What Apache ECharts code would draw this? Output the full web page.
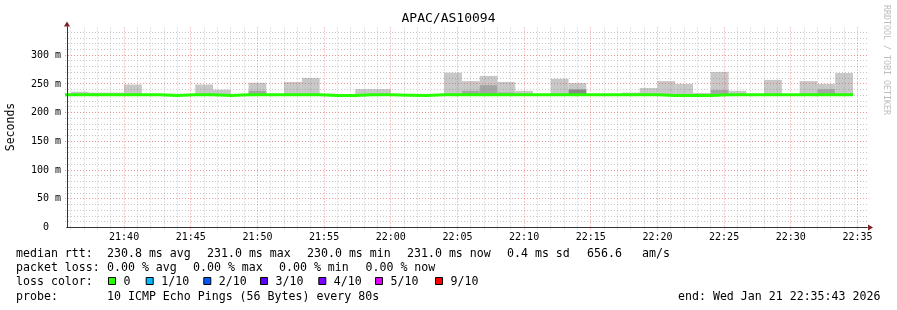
<!DOCTYPE html>
<html>
<head>
<meta charset="utf-8">
<title>APAC/AS10094</title>
<script src="https://cdn.jsdelivr.net/npm/echarts@6.0.0/dist/echarts.min.js"></script>
<style>
html,body{margin:0;padding:0;background:#ffffff;}
#chart{width:897px;height:310px;}
</style>
</head>
<body>
<div id="chart"></div>
<script>
// ---------------- data ----------------
const chartTitle = 'APAC/AS10094';
const rangeStart = '21:35:43';
const rangeEnd = '22:35:43';
const firstBinStart = '21:34:40';
const binSeconds = 80;

const xTickLabels = ['21:40','21:45','21:50','21:55','22:00','22:05','22:10','22:15','22:20','22:25','22:30','22:35'];
const yTickValues = [0, 50, 100, 150, 200, 250, 300];
const yTickLabels = ['0  ', '50 m', '100 m', '150 m', '200 m', '250 m', '300 m'];

// median rtt of each 80 s bin (ms)
const medianRtt = [
  231, 231, 231, 231, 231, 231, 230, 231, 231, 230,
  231, 231, 231, 231, 231, 230, 230, 231, 231, 230.5,
  230, 231, 231, 231, 231, 231, 231, 231, 231, 231,
  231, 231, 231, 231, 230, 230, 230, 231, 231, 231,
  231, 231, 231, 231, 231
];
// smoke: lowest ping, highest ping, inner (darker) band top, core (darkest) band top
const smokeLow = [
  null, 230, 230, 230, 230, null, null, null, 230, 230,
  null, 230, null, 230, 230, null, null, 230, 230, null,
  null, null, 230, 230, 230, 230, 230, null, 230, 230,
  null, null, 230, 230, 230, 230, 230, 230, 230, null,
  230, null, 230, 230, 230
];
const smokeHigh = [
  null, 236.5, 235, 235, 249, null, null, null, 249, 240,
  null, 252, null, 253.5, 260.5, null, null, 241, 241, null,
  null, null, 269.5, 255, 264, 253.5, 238, null, 259, 251.5,
  null, null, 235, 243, 255, 250, 234.5, 271, 238, null,
  257, null, 255, 250, 269
];
const smokeInner = [
  null, null, null, null, null, null, null, null, null, null,
  null, 238, null, null, null, null, null, null, null, null,
  null, null, null, 238, 248, 235, null, null, null, null,
  null, null, null, null, null, null, null, 239.5, null, null,
  null, null, null, 241, null
];
const smokeCore = [
  null, null, null, null, null, null, null, null, null, null,
  null, null, null, null, null, null, null, null, null, null,
  null, null, null, null, null, null, null, null, null, 240.5,
  null, null, null, null, null, null, null, null, null, null,
  null, null, null, null, null
];

const lossLabels = ['0', '1/10', '2/10', '3/10', '4/10', '5/10', '9/10'];
const lossColors = ['#26ff00', '#00b8ff', '#0059ff', '#5e00ff', '#7e00ff', '#dd00ff', '#ff0000'];

const rttRow = ['median rtt:', '230.8 ms avg', '231.0 ms max', '230.0 ms min', '231.0 ms now', '0.4 ms sd', '656.6', 'am/s'];
const lossRow = ['packet loss:', '0.00 % avg', '0.00 % max', '0.00 % min', '0.00 % now'];
const probeRow = ['probe:', '10 ICMP Echo Pings (56 Bytes) every 80s'];
const endText = 'end: Wed Jan 21 22:35:43 2026';
const watermark = 'RRDTOOL / TOBI OETIKER';

// ---------------- helpers ----------------
function toSec(s) { const p = s.split(':').map(Number); return p[0] * 3600 + p[1] * 60 + (p[2] || 0); }
const tMin = toSec(rangeStart), tMax = toSec(rangeEnd);
const bin0 = toSec(firstBinStart);
const binStart = i => bin0 + i * binSeconds;

const yMax = 349;
const majorX = xTickLabels.map(toSec);
const minorX = [];
for (let s = Math.ceil(tMin / 60) * 60; s <= tMax; s += 60) if (s % 300 !== 0) minorX.push(s);
const minorY = [];
for (let v = 10; v <= yMax; v += 10) if (v % 50 !== 0) minorY.push(v);
const majorY = yTickValues.filter(v => v > 0);

const MONO = '"DejaVu Sans Mono", monospace';
const gridGray = 'rgba(128,128,128,0.45)';
const gridRed = 'rgba(222,48,48,0.5)';
const axisColor = '#333333';
const arrowColor = '#7f1f1f';

const smokeData = medianRtt.map((m, i) => {
  const lo = smokeLow[i] == null ? m : smokeLow[i];
  const hi = smokeHigh[i] == null ? lo : smokeHigh[i];
  const inn = smokeInner[i] == null ? lo : smokeInner[i];
  const core = smokeCore[i] == null ? lo : smokeCore[i];
  return [binStart(i), binStart(i + 1), lo, hi, inn, core];
});
const medianData = medianRtt.map((v, i) => [binStart(i), v]);
medianData.push([binStart(medianRtt.length), medianRtt[medianRtt.length - 1]]);

const smokeColors = ['#c8c8c8', '#a6a6a6', '#8a8a8a'];

// grid line data: [x, y, orientation(0 = vertical, 1 = horizontal)]
const gridMinor = minorX.map(t => [t, 0, 0]).concat(minorY.map(v => [tMin, v, 1]));
const gridMajor = majorX.map(t => [t, 0, 0]).concat(majorY.map(v => [tMin, v, 1]));

function gridRenderer(color) {
  return function (params, api) {
    const o = api.value(2);
    let x1, y1, x2, y2;
    if (o === 0) {
      const a = api.coord([api.value(0), 0]);
      const b = api.coord([api.value(0), yMax]);
      x1 = x2 = Math.floor(a[0]) + 0.5; y1 = a[1] + 2; y2 = b[1];
    } else {
      const a = api.coord([tMin, api.value(1)]);
      const b = api.coord([tMax, api.value(1)]);
      y1 = y2 = Math.floor(a[1]) + 0.5; x1 = a[0] - 2; x2 = b[0] + 2;
    }
    return { type: 'line', shape: { x1: x1, y1: y1, x2: x2, y2: y2 },
      style: { stroke: color, lineWidth: 1, lineDash: [1, 2] } };
  };
}

// ---------------- chart ----------------
const chart = echarts.init(document.getElementById('chart'), null, { renderer: 'canvas' });

// legend graphics
const g = [];
function txt(x, y, text) {
  g.push({ type: 'text', x: x, y: y, silent: true,
    style: { text: text, fontFamily: MONO, fontSize: 11.6, fill: '#000', align: 'left', verticalAlign: 'middle' } });
}
const rttX = [16, 107, 207, 307, 407, 507, 587, 642];
rttRow.forEach((t, i) => txt(rttX[i], 254.3, t));
const lossX = [16, 107, 193, 279, 365.5];
lossRow.forEach((t, i) => txt(lossX[i], 268.3, t));
txt(16, 282.3, 'loss color:');
const boxX = [108, 145.7, 203.3, 260, 318.3, 375, 435];
lossLabels.forEach((t, i) => {
  g.push({ type: 'rect', silent: true, shape: { x: boxX[i] + 0.5, y: 277.5, width: 7, height: 7 },
    style: { fill: lossColors[i], stroke: '#000', lineWidth: 1 } });
  txt(boxX[i] + 15.5, 282.3, t);
});
txt(16, 296.5, probeRow[0]);
txt(107, 296.5, probeRow[1]);
txt(678, 296.5, endText);
g.push({ type: 'text', x: 11, y: 127, rotation: Math.PI / 2, silent: true,
  style: { text: 'Seconds', fontFamily: MONO, fontSize: 11.5, fill: '#000', align: 'center', verticalAlign: 'middle' } });
g.push({ type: 'text', x: 886, y: 5, rotation: -Math.PI / 2, silent: true,
  style: { text: watermark, fontFamily: MONO, fontSize: 8.3, fill: '#bdbdbd', align: 'left', verticalAlign: 'middle' } });

const option = {
  backgroundColor: '#ffffff',
  animation: false,
  title: {
    text: chartTitle, left: 'center', top: 12.5, padding: 0,
    textStyle: { fontFamily: MONO, fontSize: 13, fontWeight: 'normal', color: '#000' }
  },
  grid: { left: 67, right: 30, top: 27.1, bottom: 82.5, outerBoundsMode: 'none', containLabel: false },
  xAxis: [
    { type: 'value', min: tMin, max: tMax, position: 'bottom', z: 6,
      axisLine: { show: true, onZero: false, lineStyle: { color: axisColor, width: 1 } },
      axisTick: { show: false },
      axisLabel: { show: true, customValues: majorX, margin: 4.5, showMinLabel: true, showMaxLabel: true,
        fontFamily: MONO, fontSize: 10, color: '#000',
        formatter: v => xTickLabels[majorX.indexOf(v)] || '' },
      splitLine: { show: false } },
    { type: 'value', min: tMin, max: tMax, position: 'bottom', z: 5.9,
      axisLine: { show: true, onZero: false, symbol: ['none', 'triangle'], symbolSize: [6, 5], symbolOffset: [0, 3.5],
        lineStyle: { color: arrowColor, width: 1 } },
      axisTick: { show: false }, axisLabel: { show: false }, splitLine: { show: false } }
  ],
  yAxis: [
    { type: 'value', min: 0, max: yMax, position: 'left', z: 6,
      axisLine: { show: true, onZero: false, lineStyle: { color: axisColor, width: 1 } },
      axisTick: { show: false },
      axisLabel: { show: true, customValues: yTickValues, margin: 6, showMinLabel: true, showMaxLabel: true,
        fontFamily: MONO, fontSize: 10, color: '#000',
        formatter: v => yTickLabels[yTickValues.indexOf(v)] || '' },
      splitLine: { show: false } },
    { type: 'value', min: 0, max: yMax, position: 'left', z: 5.9,
      axisLine: { show: true, onZero: false, symbol: ['none', 'triangle'], symbolSize: [6, 5], symbolOffset: [0, 3],
        lineStyle: { color: arrowColor, width: 1 } },
      axisTick: { show: false }, axisLabel: { show: false }, splitLine: { show: false } }
  ],
  series: [
    {
      type: 'custom', name: 'smoke', xAxisIndex: 0, yAxisIndex: 0, z: 2, silent: true,
      encode: { x: [0, 1], y: [2, 3, 4, 5] },
      data: smokeData,
      renderItem: function (params, api) {
        const s = api.value(0), e = api.value(1), lo = api.value(2);
        const tops = [api.value(3), api.value(4), api.value(5)];
        const children = [];
        tops.forEach((hi, j) => {
          if (!(hi > lo)) return;
          const p = api.coord([s, hi]);
          const q = api.coord([e, lo]);
          children.push({ type: 'rect', shape: { x: p[0], y: p[1], width: q[0] - p[0], height: q[1] - p[1] },
            style: { fill: smokeColors[j] } });
        });
        return { type: 'group', children: children };
      }
    },
    {
      type: 'custom', name: 'minor grid', xAxisIndex: 0, yAxisIndex: 0, z: 3, silent: true, clip: false,
      encode: { x: 0, y: 1 }, data: gridMinor, renderItem: gridRenderer(gridGray)
    },
    {
      type: 'custom', name: 'major grid', xAxisIndex: 0, yAxisIndex: 0, z: 3.5, silent: true, clip: false,
      encode: { x: 0, y: 1 }, data: gridMajor, renderItem: gridRenderer(gridRed)
    },
    {
      type: 'line', name: 'median rtt', xAxisIndex: 0, yAxisIndex: 0, z: 5, silent: true,
      step: 'end', showSymbol: false, symbol: 'none', clip: true,
      lineStyle: { color: lossColors[0], width: 3, cap: 'butt', join: 'miter' },
      data: medianData
    }
  ],
  graphic: g
};
chart.setOption(option);
</script>
</body>
</html>
